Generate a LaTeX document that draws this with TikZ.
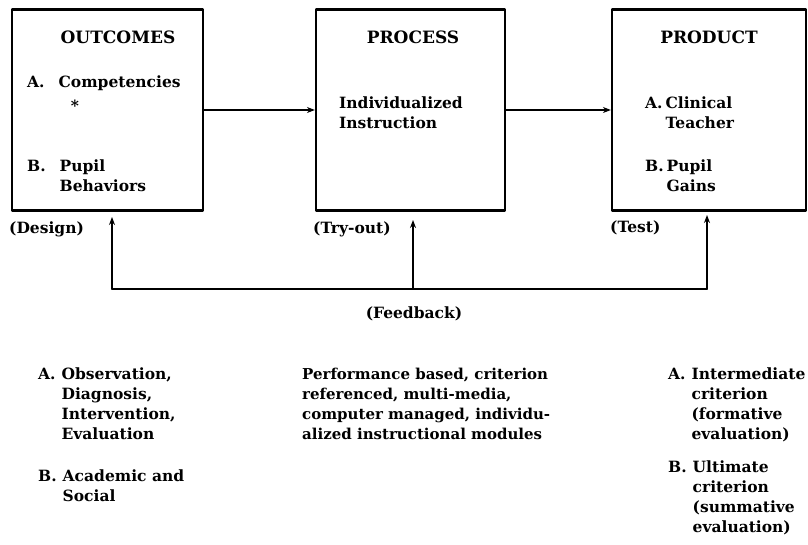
\documentclass[tikz,border=0pt]{standalone}
\usepackage{fontspec}
\setmainfont{DejaVu Serif}
\usetikzlibrary{arrows.meta}
\newcommand{\lst}[2][6pt]{\begin{tabular}[t]{@{}l@{\hspace{#1}}l@{}}#2\end{tabular}}
\newcommand{\blk}[1]{\begin{tabular}[t]{@{}l@{}}#1\end{tabular}}
\tikzset{
    stage/.style = {draw, line width=2.2pt, minimum width=#1, minimum height=201pt, inner sep=0pt},
    flow/.style = {line width=1.6pt, -{Stealth[length=8pt,width=6pt]}},
    txt/.style = {anchor=base west, inner sep=0pt, font=\fontsize{15.5}{20}\selectfont\bfseries},
    ttl/.style = {anchor=base, inner sep=0pt, font=\fontsize{17}{20}\selectfont\bfseries}
}

\begin{document}
\begin{tikzpicture}[x=1pt,y=-1pt,line cap=round,line join=round]
	\useasboundingbox (0,0) rectangle (808,545);
	\node[stage=191pt] (outcomes) at (107.5,110) {};
	\node[stage=189pt] (process) at (410.5,110) {};
	\node[stage=194pt] (product) at (709,110) {};
	\node[ttl] (toutcomes) at (118,44) {OUTCOMES};
	\node[ttl] (tprocess) at (413,44) {PROCESS};
	\node[ttl] (tproduct) at (709,44) {PRODUCT};
	\node[txt] (oa) at (27,88) {\lst[14pt]{A. & Competencies}};
	\node[txt, anchor=base] (ostar) at (75,112) {*};
	\node[txt] (ob) at (27,172) {\lst[14pt]{B. & Pupil\\ & Behaviors}};
	\node[txt] (pa) at (339,109) {\blk{Individualized\\Instruction}};
	\node[txt] (da) at (645,109) {\lst[3pt]{A. & Clinical\\ & Teacher}};
	\node[txt] (db) at (645,172) {\lst[3pt]{B. & Pupil\\ & Gains}};
	\node[txt] (design) at (9,234) {(Design)};
	\node[txt] (tryout) at (313,234) {(Try-out)};
	\node[txt] (test) at (610,233) {(Test)};
	\draw[flow] (outcomes) -- (process);
	\draw[flow] (process) -- (product);
	% feedback loop
	\coordinate (fo) at (112,217);
	\coordinate (fp) at (413,220);
	\coordinate (fd) at (707,215);
	\coordinate (bo) at (112,289);
	\coordinate (bp) at (413,289);
	\coordinate (bd) at (707,289);
	\draw[line width=1.6pt] (bo) -- (bd);
	\foreach \c in {o,p,d}
		\draw[flow] (b\c) -- (f\c);
	\node[txt, anchor=base] (feedback) at (414,318) {(Feedback)};
	\node[txt] (oc) at (38,379) {\lst{A. & Observation,\\ & Diagnosis,\\ & Intervention,\\ & Evaluation}};
	\node[txt] (od) at (38,481) {\lst{B. & Academic and\\ & Social}};
	\node[txt, font=\fontsize{15}{20}\selectfont\bfseries] (pc) at (302,379) {\blk{Performance based, criterion\\referenced, multi-media,\\computer managed, individu-\\alized instructional modules}};
	\node[txt] (dc) at (668,379) {\lst{A. & Intermediate\\ & criterion\\ & (formative\\ & evaluation)}};
	\node[txt] (dd) at (668,472) {\lst{B. & Ultimate\\ & criterion\\ & (summative\\ & evaluation)}};
\end{tikzpicture}
\end{document}
